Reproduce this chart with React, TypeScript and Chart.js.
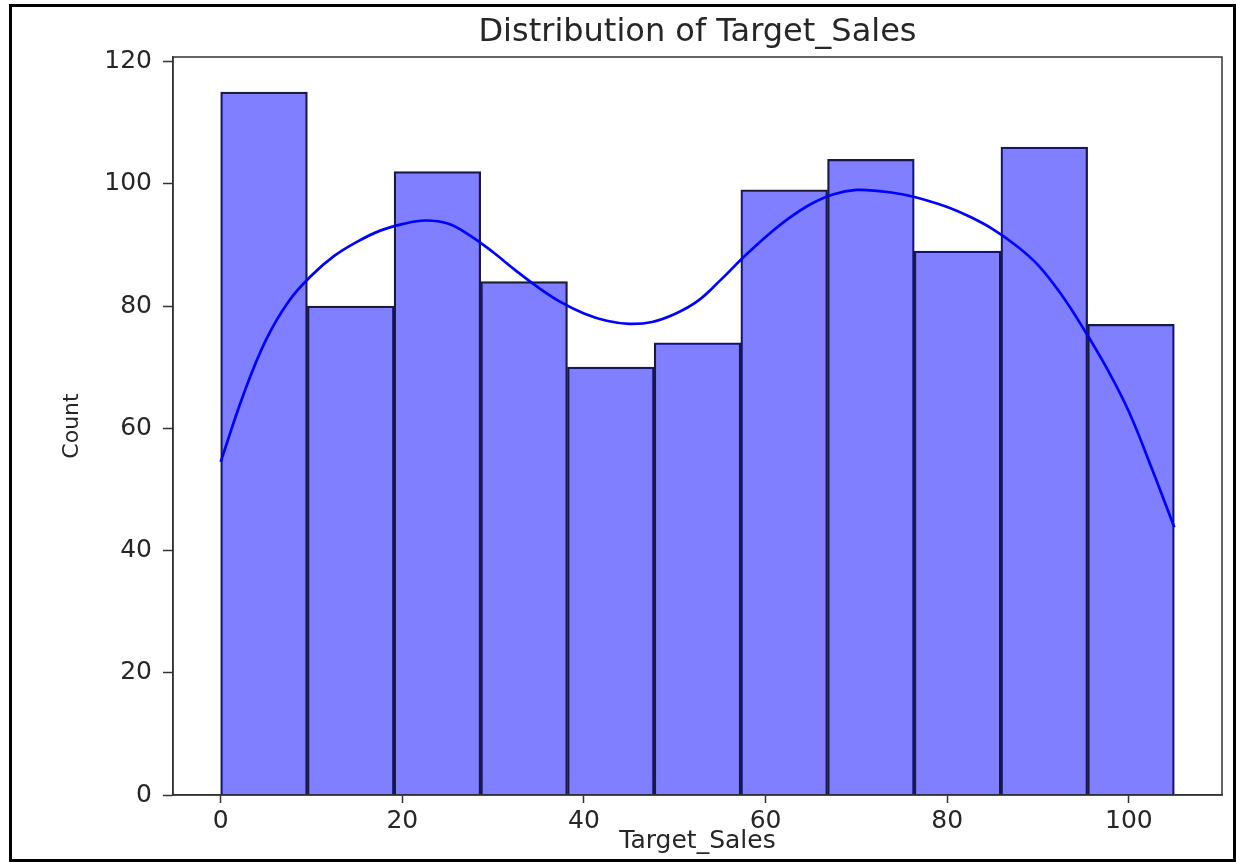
import React, { useEffect, useRef } from "react";
import { Chart, registerables } from "chart.js";

Chart.register(...registerables);

// Histogram bins (edges) and counts
const binEdges = [0, 9.545, 19.091, 28.636, 38.182, 47.727, 57.273, 66.818, 76.364, 85.909, 95.455, 105];
const counts = [115, 80, 102, 84, 70, 74, 99, 104, 89, 106, 77];

// KDE curve
const kdeX = [0, 2.5, 5, 7.5, 10, 12.5, 15, 17.5, 20, 22.5, 25, 27.5, 30, 32.5, 35, 37.5, 40, 42.5, 45, 47.5, 50, 52.5, 55, 57.5, 60, 62.5, 65, 67.5, 70, 72.5, 75, 77.5, 80, 82.5, 85, 87.5, 90, 92.5, 95, 97.5, 100, 102.5, 105];
const kdeY = [54.5, 65.5, 74.5, 80.8, 85, 88.2, 90.5, 92.3, 93.4, 94, 93.5, 91.5, 88.8, 85.8, 83, 80.6, 78.8, 77.6, 77.1, 77.4, 78.7, 80.8, 84.2, 87.9, 91.3, 94.3, 96.7, 98.3, 99, 98.8, 98.3, 97.4, 96.2, 94.6, 92.6, 90, 86.7, 82, 76.3, 70, 62.7, 53.5, 43.8];

const xTicksStep = 20;
const yTicksStep = 20;

const TITLE = "Distribution of Target_Sales";
const X_LABEL = "Target_Sales";
const Y_LABEL = "Count";

const FONT = "'DejaVu Sans', sans-serif";
const TEXT = "#262626";
const AXIS = "#333333";

const spinesPlugin = {
  id: "spines",
  afterDatasetsDraw(chart: any) {
    const { ctx, chartArea } = chart;
    ctx.save();
    ctx.strokeStyle = AXIS;
    ctx.lineWidth = 1.5;
    ctx.strokeRect(chartArea.left, chartArea.top, chartArea.right - chartArea.left, chartArea.bottom - chartArea.top);
    ctx.restore();
  },
};

export default function App() {
  const ref = useRef<HTMLCanvasElement | null>(null);

  useEffect(() => {
    if (!ref.current) return;
    const barData = counts.map((c, i) => ({ x: (binEdges[i] + binEdges[i + 1]) / 2, y: c }));
    const kdeData = kdeX.map((x, i) => ({ x, y: kdeY[i] }));

    const chart = new Chart(ref.current, {
      type: "bar",
      data: {
        datasets: [
          {
            type: "line",
            data: kdeData,
            borderColor: "#0000ff",
            borderWidth: 2.7,
            pointRadius: 0,
            tension: 0.4,
            fill: false,
            order: 0,
          } as any,
          {
            type: "bar",
            data: barData,
            backgroundColor: "rgba(0,0,255,0.5)",
            borderColor: "#1c1c30",
            borderWidth: 1.6,
            barPercentage: 1,
            categoryPercentage: 1,
            order: 1,
          } as any,
        ],
      },
      options: {
        responsive: false,
        animation: false,
        devicePixelRatio: 1,
        layout: { padding: { left: 0, right: 14, top: 0, bottom: 0 } },
        plugins: {
          legend: { display: false },
          tooltip: { enabled: false },
          title: {
            display: true,
            text: TITLE,
            fullSize: false,
            color: TEXT,
            font: { family: FONT, size: 32, weight: "normal" },
            padding: { top: 13, bottom: 5.6 },
          },
        },
        scales: {
          x: {
            type: "linear",
            min: -5.25,
            max: 110.25,
            offset: false,
            afterFit: (axis: any) => {
              axis.height = 67;
            },
            ticks: {
              stepSize: xTicksStep,
              includeBounds: false,
              color: TEXT,
              font: { family: FONT, size: 25 },
              padding: 3,
              maxRotation: 0,
            },
            grid: {
              display: true,
              offset: false,
              drawOnChartArea: false,
              drawTicks: true,
              tickLength: 8,
              tickColor: AXIS,
              tickWidth: 1.5,
            },
            border: { display: true, color: AXIS, width: 1.5 },
            title: {
              display: true,
              text: X_LABEL,
              color: TEXT,
              font: { family: FONT, size: 25 },
              padding: { top: 0, bottom: 5.5 },
            },
          },
          y: {
            type: "linear",
            min: 0,
            max: 120.75,
            afterFit: (axis: any) => {
              axis.width = 173;
            },
            ticks: {
              stepSize: yTicksStep,
              includeBounds: false,
              color: TEXT,
              font: { family: FONT, size: 25 },
              padding: 11,
            },
            grid: {
              display: true,
              drawOnChartArea: false,
              drawTicks: true,
              tickLength: 10,
              tickColor: AXIS,
              tickWidth: 1.5,
            },
            border: { display: true, color: AXIS, width: 1.5 },
            title: {
              display: true,
              text: Y_LABEL,
              color: TEXT,
              font: { family: FONT, size: 22 },
              padding: { top: 59, bottom: 0 },
            },
          },
        },
      },
      plugins: [spinesPlugin],
    });
    return () => chart.destroy();
  }, []);

  return (
    <div style={{ position: "fixed", left: 0, top: 0, width: 1236, height: 862, background: "#fff", overflow: "hidden" }}>
      <canvas ref={ref} width={1236} height={862} style={{ position: "absolute", left: 0, top: 0, display: "block" }} />
      <div
        style={{
          position: "absolute",
          left: 9,
          top: 4,
          width: 1227,
          height: 858,
          border: "3px solid #000",
          boxSizing: "border-box",
          pointerEvents: "none",
        }}
      />
    </div>
  );
}
